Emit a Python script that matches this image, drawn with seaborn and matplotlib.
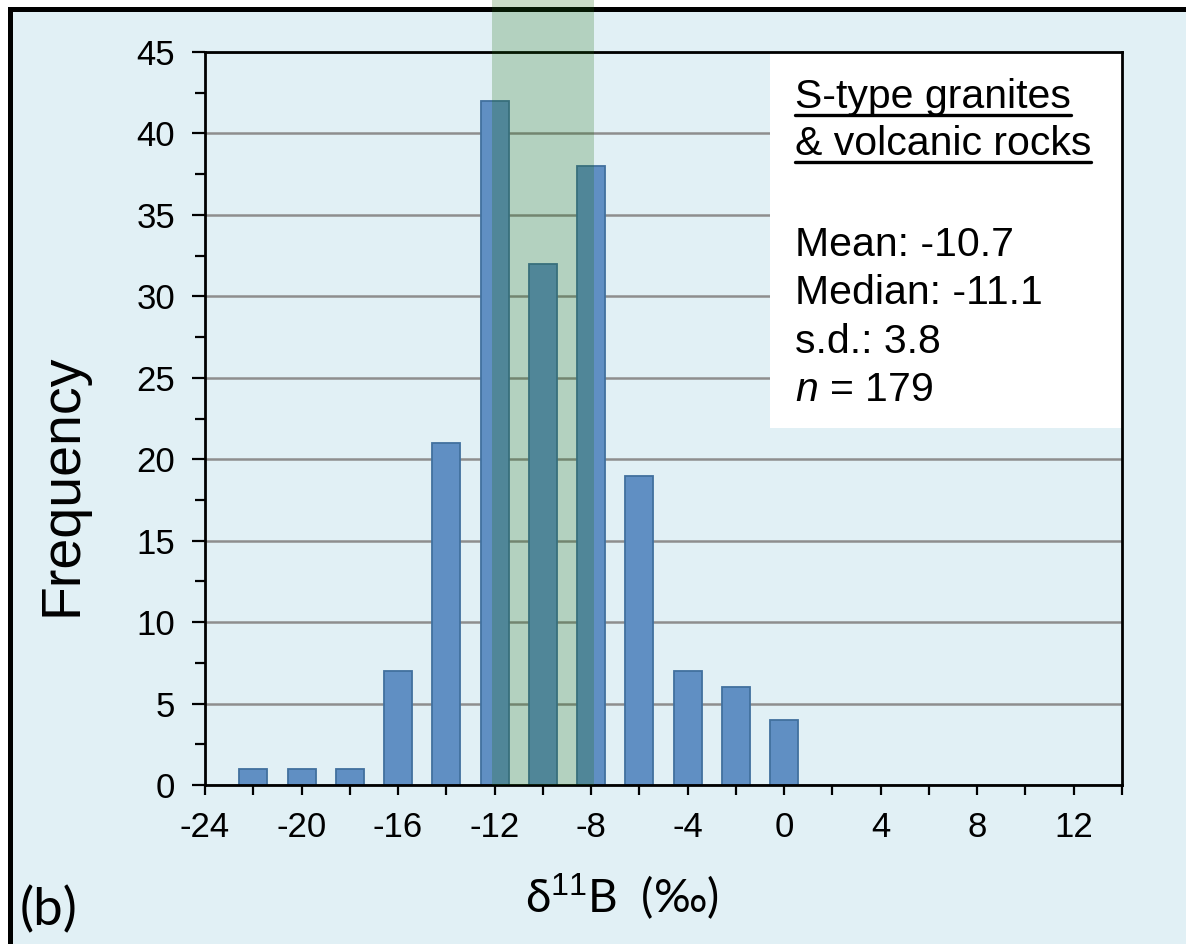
import matplotlib
matplotlib.use("Agg")
import numpy as np
import pandas as pd
import matplotlib.pyplot as plt
import seaborn as sns
from matplotlib.ticker import MultipleLocator
from matplotlib.patches import Rectangle
from matplotlib.lines import Line2D

# ---------------- data ----------------
bin_centers = [-22, -20, -18, -16, -14, -12, -10, -8, -6, -4, -2, 0]
counts = [1, 1, 1, 7, 21, 42, 32, 38, 19, 7, 6, 4]
band_range = [-12.1, -7.9]
x_limits = [-24, 14]
y_limits = [0, 45]
title_lines = ["S-type granites", "& volcanic rocks"]
stat_lines = ["Mean: -10.7", "Median: -11.1", "s.d.: 3.8", r"$n$ = 179"]
x_label = r"δ$^{11}$B  (‰)"
y_label = "Frequency"
panel_label = "(b)"

# ---------------- style ----------------
sns.set_style("ticks")
plt.rcParams["font.family"] = ["Liberation Sans", "DejaVu Sans"]
plt.rcParams["axes.unicode_minus"] = False
plt.rcParams["mathtext.fontset"] = "custom"
plt.rcParams["mathtext.rm"] = "Liberation Sans"
plt.rcParams["mathtext.it"] = "Liberation Sans:italic"
for k in ["text.color", "axes.labelcolor", "xtick.color", "ytick.color", "axes.edgecolor"]:
    plt.rcParams[k] = "black"

BG = "#E1F0F5"
BAR = "#608FC3"
BAR_EDGE = "#41709E"
GREEN = (27 / 255, 107 / 255, 13 / 255)

W, H = 1186, 944
fig = plt.figure(figsize=(W / 100, H / 100), dpi=100, facecolor="white")

# outer panel frame (only left/top edges visible)
frame = Rectangle((10 / W, -0.3), 1.5, 1 - 9 / H + 0.3, transform=fig.transFigure,
                  facecolor=BG, edgecolor="black", lw=3.6, zorder=-5)
fig.add_artist(frame)

ax = fig.add_axes([205 / W, 1 - 785 / H, 917 / W, 733 / H])
ax.set_facecolor("none")

df = pd.DataFrame({"center": bin_centers, "count": counts})
sns.barplot(data=df, x="center", y="count", native_scale=True, width=0.58,
            color=BAR, saturation=1, edgecolor=BAR_EDGE, linewidth=1.3,
            errorbar=None, ax=ax, zorder=2)

ax.set_xlim(*x_limits)
ax.set_ylim(*y_limits)
ax.xaxis.set_major_locator(MultipleLocator(4))
ax.xaxis.set_minor_locator(MultipleLocator(2))
ax.yaxis.set_major_locator(MultipleLocator(5))
ax.yaxis.set_minor_locator(MultipleLocator(2.5))

ax.tick_params(axis="x", which="both", direction="out", length=7.5, width=1.6,
               labelsize=25, pad=11, top=False, colors="black")
ax.tick_params(axis="y", which="major", direction="out", length=9.5, width=1.6,
               labelsize=25, pad=12, right=False, colors="black")
ax.tick_params(axis="y", which="minor", direction="out", length=7, width=1.6, right=False)

ax.set_axisbelow(True)
ax.yaxis.grid(True, which="major", color="#8E8E8E", lw=1.8)
ax.xaxis.grid(False)
for s in ax.spines.values():
    s.set_visible(True)
    s.set_color("black")
    s.set_linewidth(2)

# white text box in the upper right
ax.add_patch(Rectangle((0.616, 0.487), 0.384, 0.513, transform=ax.transAxes,
                       facecolor="white", edgecolor="none", zorder=1.5))

# green shaded band
ax.axvspan(band_range[0], band_range[1], ymin=0, ymax=1.08, facecolor=GREEN,
           alpha=0.23, lw=0, clip_on=False, zorder=10)

# labels
ax.set_ylabel(y_label, fontsize=40)
ax.yaxis.set_label_coords(-0.1265, 0.409)
ax.set_xlabel(x_label, fontsize=33, family=["Lato", "DejaVu Sans"])
ax.xaxis.set_label_coords(0.455, -0.118)
fig.text(20 / W, 1 - 910 / H, panel_label, fontsize=38, family=["Lato", "DejaVu Sans"],
         va="center", ha="left")

tx = (795 - 205) / 917
title_y = [(785 - 108) / 733, (785 - 155) / 733]
stat_y = [(785 - 256) / 733, (785 - 304) / 733, (785 - 353) / 733, (785 - 401) / 733]
title_texts = []
for line, yy in zip(title_lines, title_y):
    t = ax.text(tx, yy, line, transform=ax.transAxes, fontsize=29.5, va="baseline",
                ha="left", zorder=5)
    title_texts.append((t, yy))
for line, yy in zip(stat_lines, stat_y):
    ax.text(tx, yy, line, transform=ax.transAxes, fontsize=29.5, va="baseline",
            ha="left", zorder=5)

# underline title lines
fig.canvas.draw()
renderer = fig.canvas.get_renderer()
inv = fig.transFigure.inverted()
for t, yy in title_texts:
    bb = t.get_window_extent(renderer)
    base = ax.transAxes.transform((tx, yy))[1]
    p0 = inv.transform((bb.x0, base - 7))
    p1 = inv.transform((bb.x1, base - 7))
    fig.add_artist(Line2D([p0[0], p1[0]], [p0[1], p1[1]], transform=fig.transFigure,
                          color="black", lw=2.4, zorder=20))

fig.savefig("out.png", dpi=100, facecolor="white")
